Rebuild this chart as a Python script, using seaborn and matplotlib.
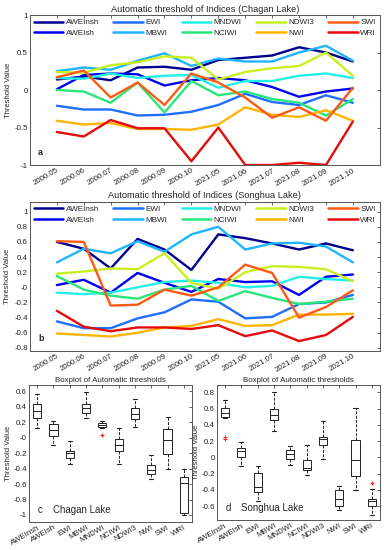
import numpy as np
import pandas as pd
import seaborn as sns
import matplotlib.pyplot as plt
from matplotlib.ticker import FuncFormatter

periods = ['2000.05', '2000.06', '2000.07', '2000.08', '2000.09', '2000.10',
           '2021.05', '2021.06', '2021.07', '2021.08', '2021.09', '2021.10']
indices = ['AWEInsh', 'AWEIsh', 'EWI', 'MBWI', 'MNDWI',
           'NCIWI', 'NDWI3', 'NWI', 'SWI', 'WRI']
colors = ['#00008C', '#0000F0', '#1E6EFF', '#1EB4FF', '#22F0E6',
          '#28E678', '#C8F01E', '#FFB400', '#FF5A14', '#E60A0A']

# Chagan Lake
chagan_aweinsh = [0.14, 0.18, 0.13, 0.30, 0.31, 0.27, 0.40, 0.43, 0.46, 0.57, 0.50, 0.38]
chagan_aweish = [0.01, 0.20, 0.22, 0.21, 0.06, 0.13, 0.16, 0.13, 0.04, -0.09, -0.02, 0.02]
chagan_ewi = [-0.21, -0.26, -0.26, -0.34, -0.33, -0.29, -0.20, -0.05, -0.16, -0.20, -0.07, -0.17]
chagan_mbwi = [0.25, 0.30, 0.27, 0.39, 0.49, 0.32, 0.42, 0.38, 0.38, 0.50, 0.59, 0.39]
chagan_mndwi = [0.16, 0.15, 0.22, 0.16, 0.19, 0.20, 0.03, 0.12, 0.12, 0.19, 0.22, 0.16]
chagan_nciwi = [0.00, -0.02, -0.17, 0.10, -0.30, 0.12, -0.07, -0.02, -0.12, -0.17, -0.34, -0.12]
chagan_ndwi3 = [0.24, 0.23, 0.33, 0.37, 0.45, 0.43, 0.14, 0.24, 0.29, 0.32, 0.50, 0.19]
chagan_nwi = [-0.41, -0.46, -0.44, -0.52, -0.52, -0.53, -0.46, -0.23, -0.33, -0.36, -0.27, -0.41]
chagan_swi = [0.17, 0.26, -0.10, 0.10, -0.20, 0.22, 0.10, -0.10, -0.37, -0.23, -0.41, 0.03]
chagan_wri = [-0.56, -0.62, -0.40, -0.51, -0.51, -0.95, -0.50, -1.00, -1.00, -0.97, -1.00, -0.42]

# Songhua Lake
songhua_aweinsh = [0.60, 0.51, 0.25, 0.64, 0.50, 0.23, 0.70, 0.65, 0.58, 0.50, 0.58, 0.49]
songhua_aweish = [0.03, 0.10, -0.07, 0.19, 0.06, -0.06, 0.11, 0.07, 0.08, -0.10, 0.14, 0.17]
songhua_ewi = [-0.45, -0.54, -0.54, -0.41, -0.33, -0.16, -0.19, -0.41, -0.39, -0.22, -0.20, -0.10]
songhua_mbwi = [0.33, 0.51, 0.45, 0.61, 0.47, 0.70, 0.80, 0.50, 0.58, 0.59, 0.54, 0.33]
songhua_mndwi = [-0.07, -0.09, -0.07, 0.00, 0.07, 0.09, 0.06, 0.00, 0.02, 0.14, 0.11, 0.09]
songhua_nciwi = [0.15, -0.03, -0.11, -0.15, -0.03, 0.02, -0.18, -0.05, -0.14, -0.22, -0.19, -0.15]
songhua_ndwi3 = [0.18, 0.21, 0.25, 0.24, 0.45, 0.06, -0.02, 0.20, 0.28, 0.27, 0.24, 0.08]
songhua_nwi = [-0.61, -0.63, -0.65, -0.60, -0.53, -0.51, -0.42, -0.51, -0.50, -0.36, -0.36, -0.35]
songhua_swi = [0.61, 0.60, -0.24, -0.23, -0.03, -0.11, 0.00, 0.30, 0.19, -0.40, -0.26, -0.04]
songhua_wri = [-0.31, -0.52, -0.58, -0.53, -0.53, -0.55, -0.50, -0.645, -0.57, -0.71, -0.63, -0.39]

chagan = [chagan_aweinsh, chagan_aweish, chagan_ewi, chagan_mbwi, chagan_mndwi,
          chagan_nciwi, chagan_ndwi3, chagan_nwi, chagan_swi, chagan_wri]
songhua = [songhua_aweinsh, songhua_aweish, songhua_ewi, songhua_mbwi, songhua_mndwi,
           songhua_nciwi, songhua_ndwi3, songhua_nwi, songhua_swi, songhua_wri]


def to_long(series):
    rows = []
    for name, vals in zip(indices, series):
        for p, v in zip(periods, vals):
            rows.append({'Period': p, 'Index': name, 'Value': v})
    return pd.DataFrame(rows)


sns.set_style('white')
plt.rcParams['font.family'] = ['Liberation Sans', 'DejaVu Sans']
plt.rcParams['axes.edgecolor'] = '#555555'
plt.rcParams['axes.linewidth'] = 0.7

palette = dict(zip(indices, colors))
fmt = FuncFormatter(lambda v, pos: '%g' % round(v, 2))

fig = plt.figure(figsize=(3.84, 5.5), dpi=100)
ax_a = fig.add_axes([0.078, 0.700, 0.911, 0.2727])
ax_b = fig.add_axes([0.078, 0.362, 0.911, 0.2710])
ax_c = fig.add_axes([0.0755, 0.051, 0.4245, 0.249])
ax_d = fig.add_axes([0.565, 0.0545, 0.4245, 0.2455])


def style_ticks(ax):
    ax.tick_params(direction='in', top=True, right=True, length=2.2, width=0.5,
                   labelsize=5.7, pad=1.5, colors='#222222')


# line panels
for ax, series, lake, ylim, yticks, letter in [
        (ax_a, chagan, 'Chagan Lake', (-1, 1), [-1, -0.5, 0, 0.5, 1], 'a'),
        (ax_b, songhua, 'Songhua Lake', (-0.84, 1.13), np.arange(-0.8, 1.01, 0.2), 'b')]:
    df = to_long(series)
    sns.lineplot(data=df, x='Period', y='Value', hue='Index', hue_order=indices,
                 palette=palette, sort=False, lw=1.7, errorbar=None, ax=ax)
    sns.move_legend(ax, 'upper left', bbox_to_anchor=(0, 0, 1, 1), ncol=5, mode='expand',
                    frameon=False, title=None, fontsize=5.9, handlelength=3.6,
                    handletextpad=0.3, labelspacing=0.35, borderaxespad=0, borderpad=0.45)
    for h in ax.get_legend().legend_handles:
        h.set_linewidth(1.8)
    ax.set_xlim(-1, 12)
    ax.set_ylim(*ylim)
    ax.set_yticks(yticks)
    ax.yaxis.set_major_formatter(fmt)
    ax.set_xlabel('')
    ax.set_ylabel('Threshold Value', fontsize=5.5, labelpad=2)
    ax.set_title('Automatic threshold of Indices (%s)' % lake, fontsize=6.7, pad=2.5)
    style_ticks(ax)
    plt.setp(ax.get_xticklabels(), rotation=30, ha='right', rotation_mode='anchor')
    ax.text(0.023, 0.055, letter, transform=ax.transAxes, fontsize=6.5,
            fontweight='bold', va='bottom')
    for s in ax.spines.values():
        s.set_visible(True)

# box panels
for ax, series, lake, ylim, yticks, letter in [
        (ax_c, chagan, 'Chagan Lake', (-1.09, 0.68), np.arange(-1.0, 0.61, 0.2), 'c'),
        (ax_d, songhua, 'Songhua Lake', (-0.77, 0.89), np.arange(-0.6, 0.81, 0.2), 'd')]:
    df = to_long(series)
    sns.boxplot(data=df, x='Index', y='Value', order=indices, width=0.5, whis=2.0,
                color='white', linecolor='#222222', linewidth=0.7, ax=ax,
                flierprops={'marker': '+', 'markeredgecolor': '#FF2020',
                            'markersize': 2.8, 'markeredgewidth': 0.8},
                capprops={'linewidth': 0.8},
                whiskerprops={'linestyle': (0, (3, 1.5))})
    ax.set_xlim(-0.5, 9.5)
    ax.set_ylim(*ylim)
    ax.set_yticks(yticks)
    ax.yaxis.set_major_formatter(fmt)
    ax.set_xlabel('')
    ax.set_ylabel('Threshold Value', fontsize=5.5, labelpad=1)
    ax.set_title('Boxplot of Automatic thresholds', fontsize=5.7, pad=2.5)
    style_ticks(ax)
    plt.setp(ax.get_xticklabels(), rotation=30, ha='right', rotation_mode='anchor')
    ax.text(0.055, 0.05, letter, transform=ax.transAxes, fontsize=7, va='bottom')
    ax.text(0.147, 0.05, lake, transform=ax.transAxes, fontsize=7, va='bottom')
    for s in ax.spines.values():
        s.set_visible(True)

fig.savefig('out.png', dpi=100)
plt.close(fig)
